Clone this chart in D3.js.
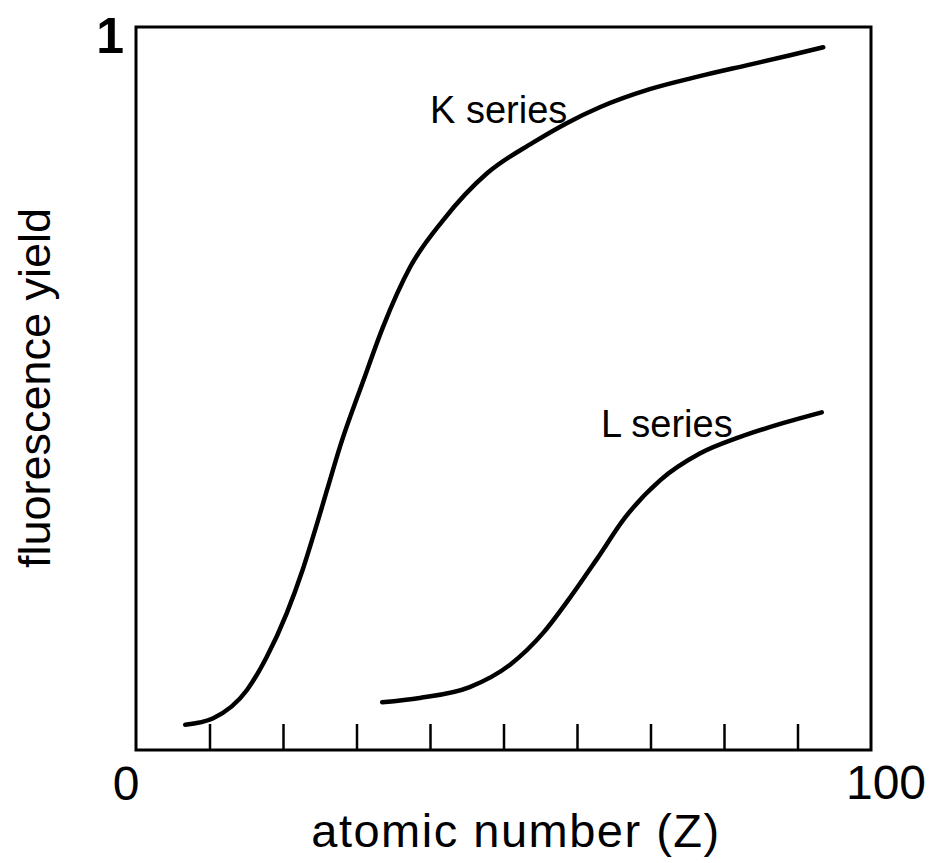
<!DOCTYPE html>
<html>
<head>
<meta charset="utf-8">
<script src="https://cdn.jsdelivr.net/npm/d3@7"></script>
<style>
  html, body { margin: 0; padding: 0; background: #fff; }
  svg text { font-family: 'Liberation Sans', Arial, sans-serif; fill: #000; }
</style>
</head>
<body>
<svg id="chart" width="933" height="863"></svg>
<script>
// atomic number Z vs fluorescence yield
const kZ     = [6.7, 10.5, 15.1, 17.8, 20.5, 22.7, 24.6, 26.0, 27.8, 30.9, 33.6, 37.3, 41.8, 47.8, 54.0, 58.6, 63.1, 69.9, 76.7, 83.5, 89.0, 93.5]
const kYield = [0.035, 0.044, 0.083, 0.129, 0.189, 0.250, 0.312, 0.360, 0.421, 0.510, 0.585, 0.668, 0.733, 0.798, 0.840, 0.867, 0.889, 0.914, 0.932, 0.948, 0.961, 0.972]

const lZ     = [33.5, 38.6, 45.4, 50.9, 55.4, 59.0, 62.7, 66.5, 71.3, 76.7, 82.2, 88.0, 93.3]
const lYield = [0.066, 0.072, 0.087, 0.118, 0.162, 0.210, 0.264, 0.321, 0.373, 0.410, 0.433, 0.452, 0.467]

const xTicks = [10, 20, 30, 40, 50, 60, 70, 80, 90]
const xEndLabels = ['0', '100']
const yTopLabel = '1'

const svg = d3.select('#chart')
const x = d3.scaleLinear().domain([0, 100]).range([136, 871])
const y = d3.scaleLinear().domain([0, 1]).range([750, 27])

// frame
svg.append('rect')
  .attr('x', x(0)).attr('y', y(1))
  .attr('width', x(100) - x(0)).attr('height', y(0) - y(1))
  .attr('fill', 'none').attr('stroke', '#000').attr('stroke-width', 3)

// inward ticks on the bottom edge only
const xAxis = svg.append('g')
  .attr('transform', `translate(0,${y(0)})`)
  .call(d3.axisBottom(x).tickValues(xTicks).tickSizeInner(-26).tickSizeOuter(0).tickFormat(''))
xAxis.select('.domain').remove()
xAxis.selectAll('.tick line').attr('stroke', '#000').attr('stroke-width', 2.5)

svg.append('text').text(xEndLabels[0])
  .attr('x', x(0) - 10).attr('y', 800)
  .attr('text-anchor', 'middle').attr('font-size', '48px')
svg.append('text').text(xEndLabels[1])
  .attr('x', x(100) + 15).attr('y', 799)
  .attr('text-anchor', 'middle').attr('font-size', '48px')
svg.append('text').text(yTopLabel)
  .attr('x', x(0) - 12).attr('y', 53)
  .attr('text-anchor', 'end').attr('font-size', '50px').attr('font-weight', 'bold')

// axis titles
svg.append('text').text('atomic number (Z)')
  .attr('x', 516).attr('y', 847)
  .attr('text-anchor', 'middle').attr('font-size', '47px')
  .attr('letter-spacing', '1.5px')

svg.append('text').text('fluorescence yield')
  .attr('transform', 'translate(50,388) rotate(-90)')
  .attr('text-anchor', 'middle').attr('font-size', '45px')

// curves
const line = d3.line()
  .x(d => x(d[0]))
  .y(d => y(d[1]))
  .curve(d3.curveMonotoneX)

const kData = kZ.map((z, i) => [z, kYield[i]])
const lData = lZ.map((z, i) => [z, lYield[i]])

svg.append('path').datum(kData)
  .attr('d', line)
  .attr('fill', 'none').attr('stroke', '#000').attr('stroke-width', 4.5)
  .attr('stroke-linecap', 'round')

svg.append('path').datum(lData)
  .attr('d', line)
  .attr('fill', 'none').attr('stroke', '#000').attr('stroke-width', 4.5)
  .attr('stroke-linecap', 'round')

// series labels
svg.append('text').text('K  series')
  .attr('x', 430).attr('y', 123)
  .attr('font-size', '38px')
svg.append('text').text('L  series')
  .attr('x', 601).attr('y', 437)
  .attr('font-size', '38px')
</script>
</body>
</html>
